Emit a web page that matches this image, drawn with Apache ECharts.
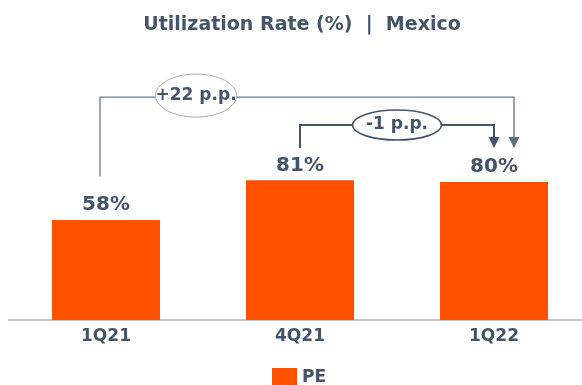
<!DOCTYPE html>
<html>
<head>
<meta charset="utf-8">
<script src="https://cdn.jsdelivr.net/npm/echarts@6/dist/echarts.min.js"></script>
<style>
  html, body { margin: 0; padding: 0; background: #ffffff; overflow: hidden; }
  #chart { width: 600px; height: 385px; }
</style>
</head>
<body>
<div id="chart"></div>
<script>
// Quarterly utilization rate, Mexico
const categories = ['1Q21', '4Q21', '1Q22'];
const peValues = [58, 81, 80];

// Period-over-period change callouts
const changeLabels = ['+22 p.p.', '-1 p.p.'];
const changeFrom = [0, 1];
const changeTo = [2, 2];

const TEXT = '#44546A';
const BAR = '#FF5000';
const FONT = 'DejaVu Sans';

// Drawing settings for each callout bracket (pixel offsets and levels in axis units)
const bracketLook = [
  { level: 129.3, leftEnd: 83.2, tip: 99.8, dxL: -6, dxR: 20, at: 0.232, rx: 40.5, ry: 21.5, dy: -1.5,
    line: '#6E7F8C', lw: 1.4, ring: '#ABABAB', ringW: 1, head: '#5C6F7C' },
  { level: 113.1, leftEnd: 99.8, tip: 99.8, dxL: 0, dxR: 0, at: 0.5, rx: 44.5, ry: 15, dy: 0,
    line: '#44546A', lw: 2, ring: '#44546A', ringW: 1.6, head: '#44546A' }
];

const bracketData = changeLabels.map((t, i) => [changeFrom[i], changeTo[i], i]);

function renderBracket(params, api) {
  const from = api.value(0), to = api.value(1), k = api.value(2);
  const s = bracketLook[k];
  const xl = api.coord([from, 0])[0] + s.dxL;
  const xr = api.coord([to, 0])[0] + s.dxR;
  const yTop = api.coord([from, s.level])[1];
  const yLeft = api.coord([from, s.leftEnd])[1];
  const yTip = api.coord([to, s.tip])[1];
  const cx = xl + (xr - xl) * s.at;
  const cy = yTop + s.dy;
  const head = 11;
  return {
    type: 'group',
    children: [
      { type: 'polyline',
        shape: { points: [[xl, yLeft], [xl, yTop], [xr, yTop], [xr, yTip - head + 1]] },
        style: { stroke: s.line, lineWidth: s.lw, fill: null } },
      { type: 'polygon',
        shape: { points: [[xr - 5.5, yTip - head], [xr + 5.5, yTip - head], [xr, yTip]] },
        style: { fill: s.head } },
      { type: 'ellipse',
        shape: { cx: cx, cy: cy, rx: s.rx, ry: s.ry },
        style: { fill: '#ffffff', stroke: s.ring, lineWidth: s.ringW } },
      { type: 'text',
        x: cx, y: cy,
        style: { text: changeLabels[k], fill: TEXT, font: 'bold 17px "' + FONT + '"',
                 align: 'center', verticalAlign: 'middle' } }
    ]
  };
}

const chart = echarts.init(document.getElementById('chart'), null, { renderer: 'canvas' });
chart.setOption({
  animation: false,
  backgroundColor: '#ffffff',
  title: {
    text: 'Utilization Rate (%)  |  Mexico',
    left: 297, top: 11, textAlign: 'center',
    textStyle: { fontFamily: FONT, fontWeight: 'bold', fontSize: 19, color: TEXT }
  },
  legend: {
    left: 272, top: 368, padding: 0,
    icon: 'rect', itemWidth: 25, itemHeight: 19, itemGap: 10,
    textStyle: { fontFamily: FONT, fontWeight: 'bold', fontSize: 17, color: TEXT },
    data: ['PE']
  },
  grid: { left: 9, right: 9, top: 147.6, height: 172.4, containLabel: false },
  xAxis: {
    type: 'category',
    data: categories,
    axisLine: { show: true, lineStyle: { color: '#C6C6C6', width: 2 } },
    axisTick: { show: false },
    axisLabel: { margin: 8, fontFamily: FONT, fontWeight: 'bold', fontSize: 17, color: TEXT }
  },
  yAxis: {
    type: 'value', min: 0, max: 100,
    show: false
  },
  series: [
    {
      name: 'PE',
      type: 'bar',
      data: peValues,
      barWidth: 108,
      itemStyle: { color: BAR },
      label: {
        show: true, position: 'top', distance: 5,
        formatter: p => p.value + '%',
        fontFamily: FONT, fontWeight: 'bold', fontSize: 20, color: TEXT
      }
    },
    {
      type: 'custom',
      renderItem: renderBracket,
      data: bracketData,
      clip: false,
      silent: true,
      z: 5
    }
  ]
});
</script>
</body>
</html>
